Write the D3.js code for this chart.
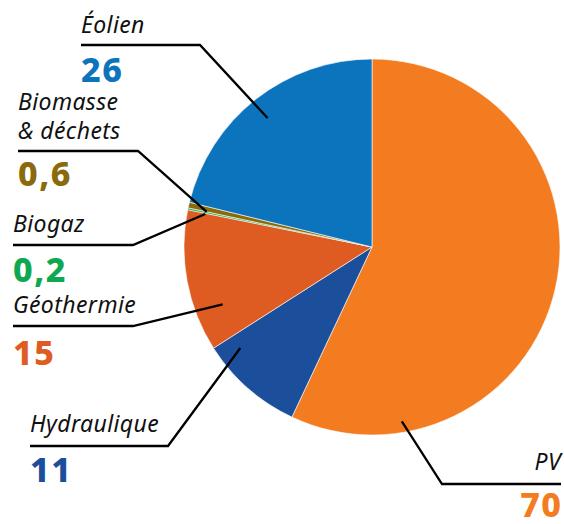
<!DOCTYPE html>
<html>
<head>
<meta charset="utf-8">
<script src="https://cdn.jsdelivr.net/npm/d3@7"></script>
<style>
  html, body { margin: 0; padding: 0; background: #fff; }
  svg { display: block; }
  .lbl { font-family: "Noto Sans", "Open Sans", sans-serif; font-style: italic; font-size: 23px; letter-spacing: 0.4px; fill: #111; }
  .val { font-family: "Noto Sans", "Open Sans", sans-serif; font-weight: 800; font-size: 34px; letter-spacing: 1.5px; }
</style>
</head>
<body>
<script>
// Energy sources, in drawing order (clockwise from 12 o'clock)
const categories = ["PV", "Hydraulique", "Géothermie", "Biogaz", "Biomasse & déchets", "Éolien"];
const values = [70, 11, 15, 0.2, 0.6, 26];
const valueLabels = ["70", "11", "15", "0,2", "0,6", "26"];
const colors = ["#f47c20", "#1b4f9c", "#de5b22", "#10a84f", "#8a6a0a", "#0c74bd"];

const W = 564, H = 524;
const cx = 372, cy = 247, R = 188;

const svg = d3.select("body").append("svg").attr("width", W).attr("height", H);

const pie = d3.pie().sort(null).value(d => d)(values);
const arc = d3.arc().innerRadius(0).outerRadius(R);

const g = svg.append("g").attr("transform", `translate(${cx},${cy})`);
g.selectAll("path").data(pie).join("path")
  .attr("d", arc)
  .attr("fill", (d, i) => colors[i])
  .attr("stroke", "#fff")
  .attr("stroke-width", 0.6)
  .attr("stroke-linejoin", "round");

// Callout layout: text lines, anchor, text x, line y, elbow x, tip (angle in degrees clockwise from top, radius)
const callouts = [
  { i: 5, lines: ["Éolien"], anchor: "start", tx: 81, lineY: 45, x0: 81, x1: 200, tipA: 321, tipR: 166, labelY: [33], valY: 82 },
  { i: 4, lines: ["Biomasse", "& déchets"], anchor: "start", tx: 18, lineY: 151, x0: 18, x1: 138, tipA: 282, tipR: 169, labelY: [110, 139], valY: 186 },
  { i: 3, lines: ["Biogaz"], anchor: "start", tx: 13, lineY: 245, x0: 13, x1: 133, tipA: 281.2, tipR: 170, labelY: [232], valY: 282 },
  { i: 2, lines: ["Géothermie"], anchor: "start", tx: 13, lineY: 326, x0: 13, x1: 133, tipA: 249, tipR: 160, labelY: [313], valY: 365 },
  { i: 1, lines: ["Hydraulique"], anchor: "start", tx: 30, lineY: 446, x0: 30, x1: 168, tipA: 232.5, tipR: 166, labelY: [432], valY: 482 },
  { i: 0, lines: ["PV"], anchor: "end", tx: 561, lineY: 484, x0: 561, x1: 442, tipA: 170.3, tipR: 177, labelY: [470], valY: 517 }
];

const polar = (a, r) => [cx + r * Math.sin(a * Math.PI / 180), cy - r * Math.cos(a * Math.PI / 180)];

callouts.forEach(c => {
  const tip = polar(c.tipA, c.tipR);
  svg.append("polyline")
    .attr("points", [[c.x0, c.lineY], [c.x1, c.lineY], tip].map(p => p.join(",")).join(" "))
    .attr("fill", "none")
    .attr("stroke", "#000")
    .attr("stroke-width", 2.3);

  c.lines.forEach((t, k) => {
    svg.append("text").attr("class", "lbl")
      .attr("x", c.tx).attr("y", c.labelY[k])
      .attr("text-anchor", c.anchor)
      .text(t);
  });

  svg.append("text").attr("class", "val")
    .attr("x", c.anchor === "end" ? c.tx + 1.5 : c.tx).attr("y", c.valY)
    .attr("text-anchor", c.anchor)
    .attr("fill", colors[c.i])
    .text(valueLabels[c.i]);
});
</script>
</body>
</html>
